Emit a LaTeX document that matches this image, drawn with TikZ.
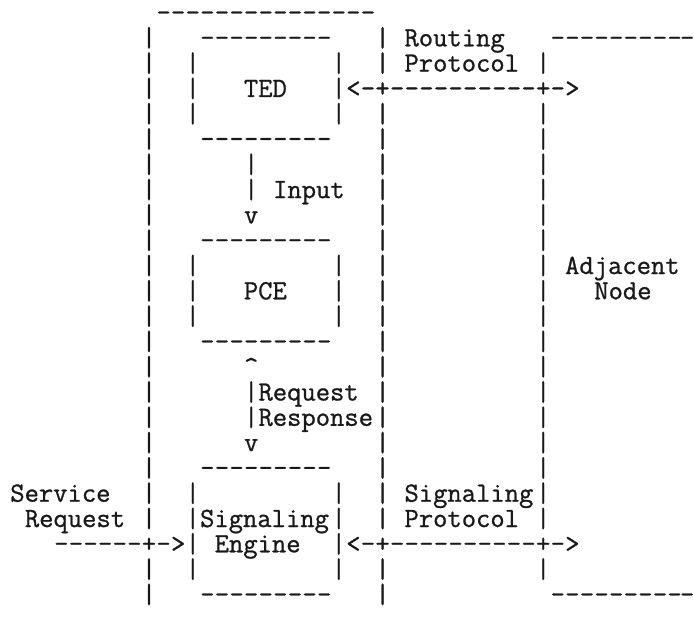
\documentclass[tikz,border=0pt]{standalone}
\usepackage{fontspec}
% typewriter face, a little heavier than the stock weight
\newfontfamily\asciitt{lmmono12-regular}[Extension=.otf, FakeBold=0.9]
\begin{document}
% Monospaced character grid: cell width and line pitch (in pt)
\newcommand\cw{14.6}
\newcommand\lp{25.3}
\tikzset{
  glyph/.style={inner sep=0pt, outer sep=0pt, text=black!90,
    font=\fontsize{27.8}{25.3}\asciitt, anchor=base},
  word/.style={glyph, anchor=base west},
}
% one character centred in cell (col,row), nudged by dx
\newcommand\chx[4]{\node[glyph] (g-#1-#2) at ({-4.3+\cw*(#1+0.5)+#3}, {-(21+\lp*#2)}) {#4};}
\newcommand\ch[3]{\chx{#1}{#2}{0}{#3}}
% a word starting at cell (col,row)
\newcommand\word[4]{\node[word] (#1) at ({-4.3+\cw*#2}, {-(21+\lp*#3)}) {#4};}
% horizontal run of hyphens on a row, from col to col
\newcommand\dashrun[3]{\foreach \c in {#2,...,#3}{\ch{\c}{#1}{-}}}
% vertical bars in one column on the listed rows
\newcommand\barcol[2]{\foreach \r in {#2}{\ch{#1}{\r}{\textbar}}}
\begin{tikzpicture}[x=1pt,y=1pt]
\useasboundingbox[fill=white] (0,0) rectangle (694,-618);

% outer frame of the node and the adjacent node edge
\dashrun{0}{11}{25}
\dashrun{1}{38}{46}\chx{47}{1}{-2}{-}
\dashrun{23}{38}{46}\chx{47}{23}{-2}{-}
\barcol{10}{1,...,20,22,23}
\barcol{26}{1,2,4,5,...,20,22,23}
\barcol{37}{2,4,5,...,20,22}

% TED box
\dashrun{1}{14}{22}
\dashrun{5}{14}{22}
\barcol{13}{2,3,4}
\barcol{23}{2,3,4}
\word{ted}{17}{3}{TED}

% PCE box
\dashrun{9}{14}{22}
\dashrun{13}{14}{22}
\barcol{13}{10,11,12}
\barcol{23}{10,11,12}
\word{pce}{17}{11}{PCE}

% Signaling Engine box
\dashrun{18}{14}{22}
\dashrun{23}{14}{22}
\barcol{13}{19,20,21,22}
\barcol{23}{19,20,21,22}
\word{sig}{14}{20}{Signaling}
\word{eng}{15}{21}{Engine}

% TED -> PCE input
\barcol{17}{6,7}
\ch{17}{8}{v}
\word{input}{19}{7}{Input}

% PCE <-> Signaling Engine request/response
\ch{17}{14}{\textasciicircum}
\barcol{17}{15,16}
\ch{17}{17}{v}
\word{req}{18}{15}{Request}
\word{resp}{18}{16}{Response}

% routing protocol exchange
\ch{24}{3}{<}\ch{25}{3}{-}\ch{26}{3}{+}
\dashrun{3}{27}{36}
\ch{37}{3}{+}\ch{38}{3}{-}\ch{39}{3}{>}
\word{rout}{28}{1}{Routing}
\word{rprot}{28}{2}{Protocol}

% signaling protocol exchange
\ch{24}{21}{<}\ch{25}{21}{-}\ch{26}{21}{+}
\dashrun{21}{27}{36}
\ch{37}{21}{+}\ch{38}{21}{-}\ch{39}{21}{>}
\word{sigp}{28}{19}{Signaling}
\word{sprot}{28}{20}{Protocol}

% incoming service request
\dashrun{21}{4}{9}
\ch{10}{21}{+}\ch{11}{21}{-}\ch{12}{21}{>}
\word{serv}{1}{19}{Service}
\word{sreq}{2}{20}{Request}

% adjacent node
\word{adj}{39}{10}{Adjacent}
\word{node}{41}{11}{Node}
\end{tikzpicture}
\end{document}
